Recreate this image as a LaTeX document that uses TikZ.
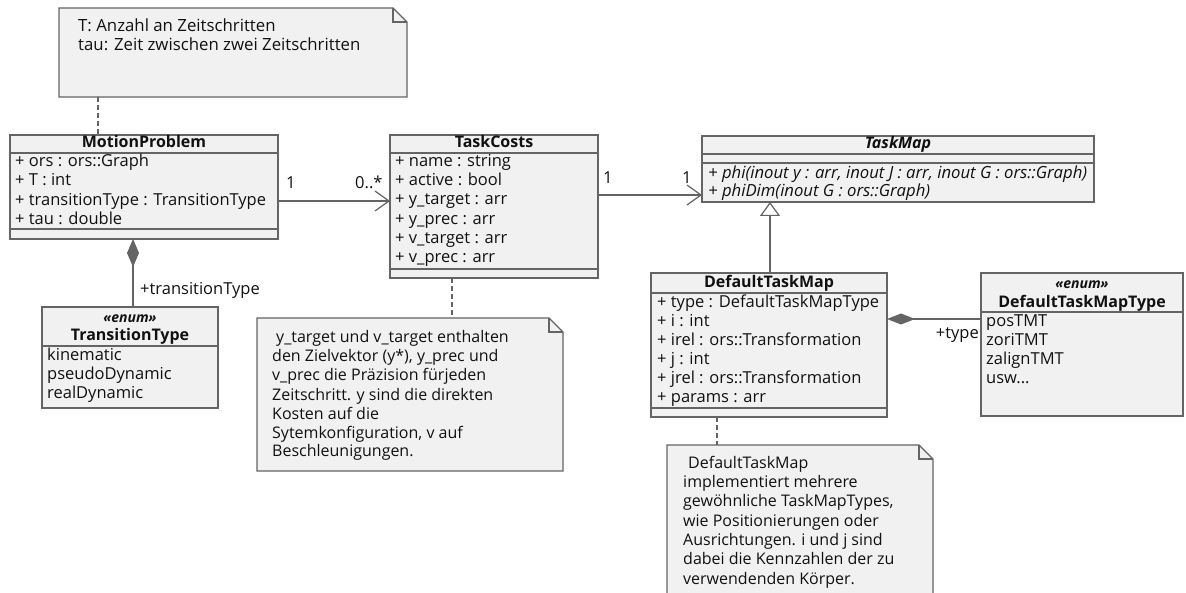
\documentclass[tikz,border=0pt]{standalone}
\usepackage{fontspec}
\setmainfont{Open Sans}
\usetikzlibrary{arrows.meta,calc}
\definecolor{boxfill}{HTML}{F1F1F1}
\definecolor{edgec}{HTML}{646464}
\definecolor{ink}{HTML}{111111}
\begin{document}
\begin{tikzpicture}[x=1pt,y=-1pt,
  box/.style={draw=edgec, fill=boxfill, line width=1.2pt, rectangle, anchor=north west, inner sep=0pt, outer sep=0pt},
  sep/.style={draw=edgec, line width=1.2pt},
  txt/.style={anchor=west, text=ink, font=\fontsize{16.5}{19}\selectfont, text height=11pt, text depth=3.5pt, inner sep=0pt},
  ntxt/.style={anchor=west, text=ink, font=\fontsize{16}{19}\selectfont, text height=11pt, text depth=3.5pt, inner sep=0pt},
  ttl/.style={text=ink, font=\bfseries\fontsize{16}{19}\selectfont, text height=11pt, text depth=3.5pt, inner sep=0pt},
  stereo/.style={text=ink, font=\bfseries\itshape\fontsize{14}{16}\selectfont, text height=10pt, text depth=3pt, inner sep=0pt},
  meth/.style={anchor=west, text=ink, font=\itshape\fontsize{16.7}{19}\selectfont, text height=11pt, text depth=3.5pt, inner sep=0pt},
  conn/.style={draw=edgec, line width=1.2pt},
  dashline/.style={draw=edgec, line width=1.2pt, dash pattern=on 5pt off 3pt},
  notebody/.style={draw=edgec, fill=boxfill, line width=1.2pt},
  noteanchor/.style={draw=none, rectangle, anchor=north west, inner sep=0pt, outer sep=0pt}
]
\clip (0,0) rectangle (1186,593);
\fill[white] (0,0) rectangle (1186,593);

% ---------- Note 1 ----------
\node[noteanchor, minimum width=348pt, minimum height=89pt] (n1) at (59,8) {};
\draw[notebody] (n1.north west) -- ($(n1.north east)+(-14,0)$) -- ($(n1.north east)+(0,14)$) -- (n1.south east) -- (n1.south west) -- cycle;
\draw[sep] ($(n1.north east)+(-14,0)$) |- ($(n1.north east)+(0,14)$);
\node[ntxt, font=\fontsize{16.8}{19}\selectfont] (n1a) at (78,28) {T: Anzahl an Zeitschritten};
\node[ntxt, font=\fontsize{16.8}{19}\selectfont] (n1b) at (78,47) {tau: Zeit zwischen zwei Zeitschritten};

% ---------- MotionProblem ----------
\node[box, minimum width=268pt, minimum height=104pt] (mp) at (10,135) {};
\node[ttl] (mpT) at (144,144) {MotionProblem};
\draw[sep] (mp.west |- 0,153) -- (mp.east |- 0,153);
\node[txt] (mp1) at (15,163) {+ ors : ors::Graph};
\node[txt] (mp2) at (15,182) {+ T : int};
\node[txt] (mp3) at (15,202) {+ transitionType : TransitionType};
\node[txt] (mp4) at (15,221) {+ tau : double};
\draw[sep] (mp.west |- 0,229) -- (mp.east |- 0,229);

% ---------- TransitionType ----------
\node[box, minimum width=176pt, minimum height=101pt] (tt) at (42,307) {};
\node[stereo] (ttS) at (130,319) {«enum»};
\node[ttl] (ttT) at (130,337) {TransitionType};
\draw[sep] (tt.west |- 0,346) -- (tt.east |- 0,346);
\node[txt] (tt1) at (47,357) {kinematic};
\node[txt] (tt2) at (47,376) {pseudoDynamic};
\node[txt] (tt3) at (47,395) {realDynamic};

% ---------- TaskCosts ----------
\node[box, minimum width=208pt, minimum height=143pt] (tc) at (390,135) {};
\node[ttl] (tcT) at (494,144) {TaskCosts};
\draw[sep] (tc.west |- 0,153) -- (tc.east |- 0,153);
\node[txt] (tc1) at (395,163) {+ name : string};
\node[txt] (tc2) at (395,182) {+ active : bool};
\node[txt] (tc3) at (395,201) {+ y\_target : arr};
\node[txt] (tc4) at (395,221) {+ y\_prec : arr};
\node[txt] (tc5) at (395,240) {+ v\_target : arr};
\node[txt] (tc6) at (395,259) {+ v\_prec : arr};
\draw[sep] (tc.west |- 0,269) -- (tc.east |- 0,269);

% ---------- TaskMap ----------
\node[box, minimum width=392pt, minimum height=66pt] (tm) at (702,136) {};
\node[ttl, font=\bfseries\itshape\fontsize{16}{19}\selectfont] (tmT) at (898,145) {TaskMap};
\draw[sep] (tm.west |- 0,154) -- (tm.east |- 0,154);
\draw[sep] (tm.west |- 0,163) -- (tm.east |- 0,163);
\node[meth] (tm1) at (708,175) {+ phi(inout y : arr, inout J : arr, inout G : ors::Graph)};
\node[meth] (tm2) at (708,193) {+ phiDim(inout G : ors::Graph)};

% ---------- DefaultTaskMap ----------
\node[box, minimum width=236pt, minimum height=144pt] (dtm) at (651,273) {};
\node[ttl] (dtmT) at (769,284) {DefaultTaskMap};
\draw[sep] (dtm.west |- 0,293) -- (dtm.east |- 0,293);
\node[txt] (dtm1) at (657,304) {+ type : DefaultTaskMapType};
\node[txt] (dtm2) at (657,323) {+ i : int};
\node[txt] (dtm3) at (657,342) {+ irel : ors::Transformation};
\node[txt] (dtm4) at (657,361) {+ j : int};
\node[txt] (dtm5) at (657,380) {+ jrel : ors::Transformation};
\node[txt] (dtm6) at (657,399) {+ params : arr};
\draw[sep] (dtm.west |- 0,408) -- (dtm.east |- 0,408);

% ---------- DefaultTaskMapType ----------
\node[box, minimum width=202pt, minimum height=143pt] (dt) at (981,273) {};
\node[stereo] (dtS) at (1082,285) {«enum»};
\node[ttl] (dtT) at (1082,304) {DefaultTaskMapType};
\draw[sep] (dt.west |- 0,312) -- (dt.east |- 0,312);
\node[txt] (dt1) at (986,323) {posTMT};
\node[txt] (dt2) at (986,342) {zoriTMT};
\node[txt] (dt3) at (986,361) {zalignTMT};
\node[txt] (dt4) at (986,380) {usw...};

% ---------- Note 2 ----------
\node[noteanchor, minimum width=306pt, minimum height=153pt] (n2) at (257,318) {};
\draw[notebody] (n2.north west) -- ($(n2.north east)+(-14,0)$) -- ($(n2.north east)+(0,14)$) -- (n2.south east) -- (n2.south west) -- cycle;
\draw[sep] ($(n2.north east)+(-14,0)$) |- ($(n2.north east)+(0,14)$);
\node[ntxt] (n2a) at (276,339) {y\_target und v\_target enthalten};
\node[ntxt] (n2b) at (272,358) {den Zielvektor (y*), y\_prec und};
\node[ntxt] (n2c) at (272,377) {v\_prec die Präzision fürjeden};
\node[ntxt] (n2d) at (272,397) {Zeitschritt. y sind die direkten};
\node[ntxt] (n2e) at (272,416) {Kosten auf die};
\node[ntxt] (n2f) at (272,435) {Sytemkonfiguration, v auf};
\node[ntxt] (n2g) at (272,453) {Beschleunigungen.};

% ---------- Note 3 ----------
\node[noteanchor, minimum width=266pt, minimum height=170pt] (n3) at (667,445) {};
\draw[notebody] (n3.north west) -- ($(n3.north east)+(-14,0)$) -- ($(n3.north east)+(0,14)$) -- (n3.south east) -- (n3.south west) -- cycle;
\draw[sep] ($(n3.north east)+(-14,0)$) |- ($(n3.north east)+(0,14)$);
\node[ntxt] (n3a) at (688,465) {DefaultTaskMap};
\node[ntxt] (n3b) at (683,484) {implementiert mehrere};
\node[ntxt] (n3c) at (683,503) {gewöhnliche TaskMapTypes,};
\node[ntxt] (n3d) at (683,523) {wie Positionierungen oder};
\node[ntxt] (n3e) at (683,542) {Ausrichtungen. i und j sind};
\node[ntxt] (n3f) at (683,561) {dabei die Kennzahlen der zu};
\node[ntxt] (n3g) at (683,581) {verwendenden Körper.};

% ---------- Connectors ----------
\draw[dashline] (n1.south -| 98,0) -- (mp.north -| 98,0);
\draw[dashline] (tc.south -| 452,0) -- (n2.north -| 452,0);
\draw[dashline] (dtm.south -| 717,0) -- (n3.north -| 717,0);

\draw[conn, -{Straight Barb[length=14pt,width=20pt]}] (mp.east |- 0,201) -- (tc.west |- 0,201);
\node[txt] (l1) at (286,185) {1};
\node[txt] (l2) at (355,185) {0..*};

\draw[conn, -{Straight Barb[length=14pt,width=20pt]}] (tc.east |- 0,195) -- (tm.west |- 0,195);
\node[txt] (l3) at (603,180) {1};
\node[txt] (l4) at (682,180) {1};

\draw[conn, -{Triangle[length=14pt,width=20pt,fill=white]}] (dtm.north -| 770,0) -- (tm.south -| 770,0);

\draw[conn, {Diamond[length=28pt,width=12pt,fill=edgec]}-] (mp.south -| 133,0) -- (tt.north -| 133,0);
\node[txt] (l5) at (140,291) {+transitionType};

\draw[conn, {Diamond[length=28pt,width=11pt,fill=edgec]}-] (dtm.east |- 0,319) -- (dt.west |- 0,319);
\node[txt, anchor=east] (l6) at (979,335) {+type};
\end{tikzpicture}
\end{document}
